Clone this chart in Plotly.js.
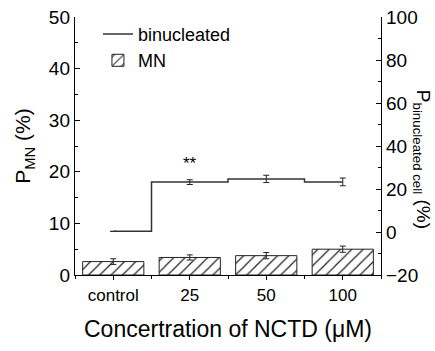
<!DOCTYPE html>
<html>
<head>
<meta charset="utf-8">
<script src="https://cdn.plot.ly/plotly-3.0.1.min.js"></script>
<style>html,body{margin:0;padding:0;background:#fff;}#chart{width:435px;height:351px;}</style>
</head>
<body>
<div id="chart"></div>
<script>
const categories = ['control', '25', '50', '100'];
const mnValues = [2.6, 3.4, 3.75, 5.0];
const mnErrors = [0.55, 0.5, 0.6, 0.6];
const binValues = [0.3, 23.2, 24.7, 23.3];
const binErrors = [0, 1.1, 1.7, 1.8];
const xPos = categories.map((c, i) => i);

const FONT = 'Liberation Sans, Arial, sans-serif';

const bars = {
  type: 'bar', name: 'MN', x: xPos, y: mnValues, width: 0.8,
  marker: {color: 'white', line: {color: '#222', width: 1},
    pattern: {shape: '/', fgcolor: '#222', bgcolor: 'white', size: 8, solidity: 0.15}},
  error_y: {type: 'data', array: mnErrors, visible: true, color: '#222', thickness: 1, width: 3},
  xaxis: 'x', yaxis: 'y'
};
const line = {
  type: 'scatter', mode: 'lines', name: 'binucleated', x: xPos, y: binValues,
  line: {shape: 'hvh', color: '#333', width: 1.5},
  error_y: {type: 'data', array: binErrors, visible: true, color: '#222', thickness: 1, width: 3},
  xaxis: 'x', yaxis: 'y2'
};

const layout = {
  width: 435, height: 351,
  margin: {l: 75, r: 54, t: 17, b: 76},
  paper_bgcolor: 'white', plot_bgcolor: 'white',
  font: {family: FONT, color: '#000'},
  showlegend: true,
  legend: {x: 0.075, y: 1.005, xanchor: 'left', yanchor: 'top', bgcolor: 'rgba(0,0,0,0)',
    font: {size: 18, family: FONT}, traceorder: 'reversed', tracegroupgap: 6},
  xaxis: {
    range: [-0.5, 3.5], tickvals: xPos, ticktext: categories,
    showline: true, linecolor: '#000', linewidth: 1.2, mirror: false,
    ticks: 'outside', ticklen: 4, tickcolor: '#000',
    minor: {tick0: 0.5, dtick: 1, ticks: 'outside', ticklen: 3, tickcolor: '#000'},
    showgrid: false, zeroline: false,
    tickfont: {size: 17},
    title: {text: 'Concertration of NCTD (μM)', font: {size: 23}, standoff: 17}
  },
  yaxis: {
    range: [0, 50], dtick: 10, showline: true, linecolor: '#000', linewidth: 1.2,
    ticks: 'inside', ticklen: 5, tickcolor: '#000',
    minor: {dtick: 5, ticks: 'inside', ticklen: 3, tickcolor: '#000'},
    showgrid: false, zeroline: false, tickfont: {size: 19},
    title: {text: 'P<sub>MN</sub> (%)', font: {size: 21}, standoff: 12}
  },
  yaxis2: {
    overlaying: 'y', side: 'right', range: [-20, 100], dtick: 20,
    showline: true, linecolor: '#000', linewidth: 1.2,
    ticks: 'inside', ticklen: 5, tickcolor: '#000',
    minor: {dtick: 10, ticks: 'inside', ticklen: 3, tickcolor: '#000'},
    showgrid: false, zeroline: false, tickfont: {size: 19}
  },
  annotations: [
    {xref: 'x', yref: 'y', x: 1, y: 21.7, text: '**', showarrow: false,
      font: {size: 17, family: FONT}},
    {xref: 'paper', yref: 'paper', x: 1.18, xanchor: 'right', y: 0.45,
      text: 'P<sub>binucleated cell</sub> (%)',
      textangle: 90, showarrow: false, font: {size: 19, family: FONT}}
  ]
};

Plotly.newPlot('chart', [bars, line], layout, {displayModeBar: false, staticPlot: true});
</script>
</body>
</html>
